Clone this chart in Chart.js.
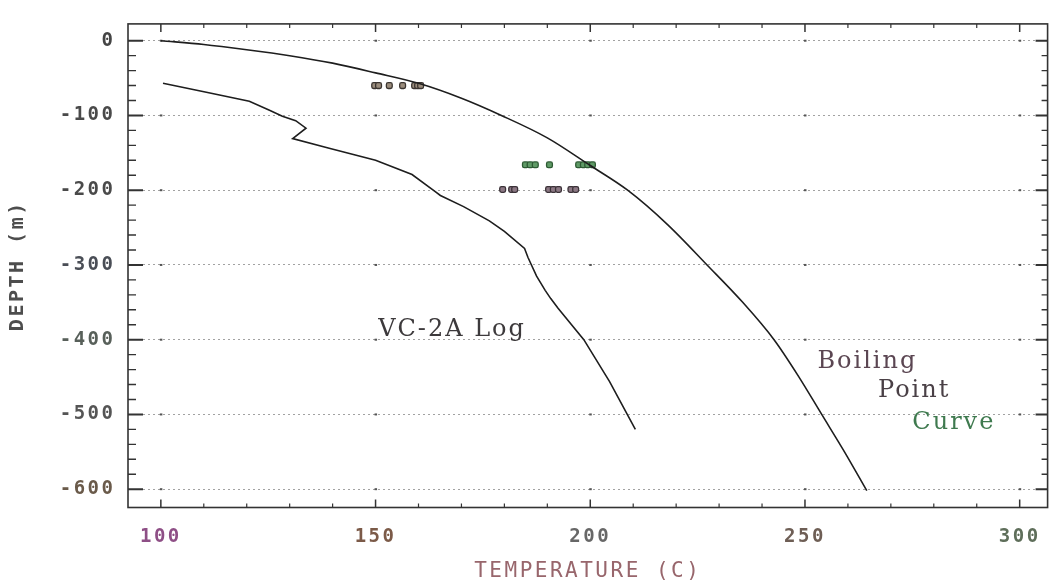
<!DOCTYPE html>
<html>
<head>
<meta charset="utf-8">
<script src="https://cdn.jsdelivr.net/npm/chart.js@4.4.1/dist/chart.umd.min.js"></script>
<style>
  html, body { margin: 0; padding: 0; background: #fff; }
  #wrap { width: 1055px; height: 586px; position: relative; }
</style>
</head>
<body>
<div id="wrap"><canvas id="plot"></canvas></div>
<script>
// axis ticks: temperature (C) and depth (m)
const tempTicks = [100, 150, 200, 250, 300];
const depthTicks = [0, -100, -200, -300, -400, -500, -600];

// boiling point with depth curve
const bpTemp  = [100, 110, 120, 130, 140, 150, 160, 170, 179.3, 190, 200, 208.7, 218, 227.2, 235.5, 242.8, 248.5, 253.9, 259.2, 264.4];
const bpDepth = [0, -5, -12, -20, -30, -43, -57, -77, -100, -130, -167, -200, -246, -300, -350, -400, -449, -500, -550, -602];

// VC-2A temperature log
const logTemp  = [100.5, 110.6, 120.6, 125.3, 128.3, 131.4, 133.8, 130.7, 139.2, 150.0, 158.5, 163.9, 165.1, 170.5, 176.5, 180.0, 184.7, 185.5, 187.5, 189.5, 190.8, 192.5, 198.5, 204.5, 210.5];
const logDepth = [-57, -69, -81, -93, -101, -107, -117, -131, -144, -160, -179, -202, -207, -222, -241, -255, -278, -290, -315, -334, -345, -358, -400, -456, -520];

// homogenization temperatures, one row per sample depth
const thDepth = [-60, -166, -199];
const thTempA = [149.8, 150.7, 153.2, 156.3, 159.1, 159.8, 160.5];
const thTempB = [184.9, 186.0, 187.2, 190.5, 197.3, 198.4, 199.4, 200.5];
const thTempC = [179.6, 181.7, 182.4, 190.3, 191.4, 192.6, 195.5, 196.6];

const pts = (xs, ys) => xs.map((t, i) => ({ x: t, y: ys[i] }));
const row = (xs, d) => xs.map(t => ({ x: t, y: d }));

const xTickColors = ['#8e4f86', '#7b5a48', '#676767', '#6e5e55', '#5e6e5a'];
const yTickColors = ['#444444', '#4a4a4a', '#4a4a4a', '#4a4e56', '#58605a', '#555555', '#6a5a4a'];

// curve captions, anchored at their left baseline in data units
const notes = [
  { text: 'VC-2A Log', t: 150.6, d: -395, color: '#3d3a3c' },
  { text: 'Boiling',   t: 252.9, d: -438, color: '#5b4652' },
  { text: 'Point',     t: 267.0, d: -477, color: '#4a4046' },
  { text: 'Curve',     t: 275.0, d: -519, color: '#3f7a4f' }
];

const framePlugin = {
  id: 'frame',
  beforeDraw(chart) {
    chart.ctx.letterSpacing = '2.5px';
  },
  beforeDatasetsDraw(chart) {
    const { ctx, chartArea: a, scales: { x, y } } = chart;
    ctx.save();
    ctx.letterSpacing = '0px';

    // heavier dots where the dotted grid meets the major temperatures
    ctx.fillStyle = '#555';
    tempTicks.forEach(t => depthTicks.forEach(d => {
      ctx.fillRect(x.getPixelForValue(t) - 1, y.getPixelForValue(d) - 1, 2.5, 2);
    }));

    // inward tick marks on all four sides
    ctx.strokeStyle = '#333';
    for (let t = 100; t <= 300; t += 10) {
      const px = x.getPixelForValue(t);
      const major = t % 50 === 0;
      const len = major ? 8 : 4;
      ctx.lineWidth = major ? 1.5 : 1.2;
      ctx.beginPath();
      ctx.moveTo(px, a.bottom); ctx.lineTo(px, a.bottom - len);
      ctx.moveTo(px, a.top); ctx.lineTo(px, a.top + len);
      ctx.stroke();
    }
    for (let d = 0; d >= -600; d -= 20) {
      const py = y.getPixelForValue(d);
      const major = d % 100 === 0;
      ctx.lineWidth = major ? 2 : 1.4;
      ctx.beginPath();
      ctx.moveTo(a.left, py); ctx.lineTo(a.left + (major ? 15 : 8), py);
      ctx.moveTo(a.right, py); ctx.lineTo(a.right - (major ? 12 : 6), py);
      ctx.stroke();
    }

    // plot frame
    ctx.lineWidth = 1.6;
    ctx.strokeRect(a.left, a.top, a.right - a.left, a.bottom - a.top);
    ctx.restore();
  },
  afterDatasetsDraw(chart) {
    const { ctx, scales: { x, y } } = chart;
    ctx.save();
    ctx.letterSpacing = '2px';
    ctx.font = '24px "DejaVu Serif"';
    ctx.textAlign = 'left';
    ctx.textBaseline = 'alphabetic';
    notes.forEach(n => {
      ctx.fillStyle = n.color;
      ctx.fillText(n.text, x.getPixelForValue(n.t), y.getPixelForValue(n.d));
    });
    ctx.restore();
  }
};

const markerSet = (data, fill, edge) => ({
  data,
  showLine: false,
  pointStyle: 'rectRounded',
  pointRadius: 3.4,
  backgroundColor: fill,
  borderColor: edge,
  borderWidth: 1.3
});

new Chart(document.getElementById('plot'), {
  type: 'scatter',
  data: {
    datasets: [
      {
        data: pts(bpTemp, bpDepth),
        showLine: true,
        borderColor: '#1e1e1e',
        borderWidth: 1.6,
        pointRadius: 0,
        cubicInterpolationMode: 'monotone'
      },
      {
        data: pts(logTemp, logDepth),
        showLine: true,
        borderColor: '#1e1e1e',
        borderWidth: 1.6,
        pointRadius: 0,
        tension: 0
      },
      markerSet(row(thTempA, thDepth[0]), '#9a8c7c', '#3a3430'),
      markerSet(row(thTempB, thDepth[1]), '#5f9a66', '#2d5a33'),
      markerSet(row(thTempC, thDepth[2]), '#8c7884', '#3b3238')
    ]
  },
  options: {
    responsive: true,
    maintainAspectRatio: false,
    animation: false,
    layout: { padding: { top: 7.5, right: 3, bottom: 0, left: 0 } },
    plugins: {
      legend: { display: false },
      tooltip: { enabled: false }
    },
    scales: {
      x: {
        type: 'linear',
        min: 92.35,
        max: 306.5,
        afterBuildTicks: s => { s.ticks = tempTicks.map(v => ({ value: v })); },
        afterFit: s => { s.height = 78.5; },
        grid: { display: false, drawTicks: false },
        border: { display: false },
        ticks: {
          padding: 18,
          maxRotation: 0,
          autoSkip: false,
          font: { family: 'DejaVu Sans Mono', size: 19, weight: 'bold' },
          color: c => xTickColors[c.index] || '#666',
          callback: v => String(v)
        },
        title: {
          display: true,
          text: 'TEMPERATURE (C)',
          color: '#98666c',
          font: { family: 'DejaVu Sans Mono', size: 21 },
          padding: { top: 0, bottom: 1.5 }
        }
      },
      y: {
        type: 'linear',
        min: -624.5,
        max: 22.5,
        afterBuildTicks: s => { s.ticks = depthTicks.map(v => ({ value: v })); },
        afterFit: s => { s.width = 128; },
        grid: {
          display: true,
          drawTicks: false,
          color: 'rgba(85, 85, 85, 0.55)',
          lineWidth: 1
        },
        border: { display: false, dash: [2, 3] },
        ticks: {
          padding: 12.5,
          autoSkip: false,
          font: { family: 'DejaVu Sans Mono', size: 19, weight: 'bold' },
          color: c => yTickColors[c.index] || '#555',
          callback: v => String(v)
        },
        title: {
          display: true,
          text: 'DEPTH (m)',
          color: '#4d4d4d',
          font: { family: 'DejaVu Sans Mono', size: 20, weight: 'bold' },
          padding: { top: 5.5, bottom: 0 }
        }
      }
    }
  },
  plugins: [framePlugin]
});
</script>
</body>
</html>
